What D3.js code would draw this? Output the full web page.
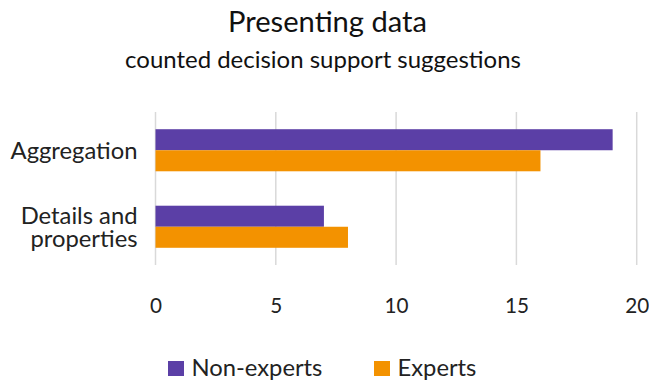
<!DOCTYPE html>
<html><head><meta charset="utf-8">
<script src="https://cdn.jsdelivr.net/npm/d3@7/dist/d3.min.js"></script>
<style>html,body{margin:0;padding:0;background:#fff;} svg{display:block;}</style>
</head><body>
<svg id="chart" width="649" height="383"></svg>
<script>
const categories = ["Aggregation", "Details and properties"];
const categoryLines = [["Aggregation"], ["Details and", "properties"]];
const series = ["Non-experts", "Experts"];
const nonExperts = [19, 7];
const experts = [16, 8];
const tickValues = [0, 5, 10, 15, 20];
const titleText = "Presenting data";
const subtitleText = "counted decision support suggestions";

const colors = {"Non-experts": "#5b3fa6", "Experts": "#f39200"};
const FONT = "Lato, 'Open Sans', sans-serif";
const svg = d3.select("#chart");

function fitSize(sel, w) {
  const fs = parseFloat(sel.attr("font-size"));
  const len = sel.node().getComputedTextLength();
  return fs * w / len;
}

const x = d3.scaleLinear().domain([0, 20]).range([155.5, 636.7]);
const y = d3.scaleBand().domain(categories).range([112, 265]).paddingInner(0.45).paddingOuter(0.225);
const yInner = d3.scaleBand().domain(series).range([0, y.bandwidth()]);

// gridlines
svg.append("g").selectAll("line").data(tickValues).join("line")
  .attr("x1", d => x(d)).attr("x2", d => x(d))
  .attr("y1", 112).attr("y2", 265)
  .attr("stroke", "#d9d9d9").attr("stroke-width", 1.5);

// bars
const rows = categories.map((c, i) => ({cat: c, vals: [
  {s: "Non-experts", v: nonExperts[i]}, {s: "Experts", v: experts[i]}]}));
const g = svg.append("g").selectAll("g").data(rows).join("g")
  .attr("transform", d => `translate(0,${y(d.cat)})`);
g.selectAll("rect").data(d => d.vals).join("rect")
  .attr("x", x(0)).attr("y", d => yInner(d.s))
  .attr("width", d => x(d.v) - x(0)).attr("height", yInner.bandwidth())
  .attr("fill", d => colors[d.s]);

// x axis tick labels
const xAxis = d3.axisBottom(x).tickValues(tickValues).tickSize(0).tickPadding(0);
const ax = svg.append("g").attr("transform", "translate(0,313)").call(xAxis);
ax.select(".domain").remove();
ax.selectAll("text").attr("dy", 0).attr("y", 0)
  .attr("font-family", FONT).attr("font-size", 20).attr("fill", "#222");
{
  const t10 = ax.selectAll("text").filter(d => d === 10);
  const fs = fitSize(t10, 24);
  ax.selectAll("text").attr("font-size", fs.toFixed(2));
}

// category labels
const lh = 22.5;
let catFs = null;
categories.forEach((c, i) => {
  const lines = categoryLines[i];
  const cy = y(c) + y.bandwidth() / 2 + 8.5 - (lines.length - 1) * lh / 2;
  const t = svg.append("text").attr("text-anchor", "end")
    .attr("font-family", FONT).attr("font-size", 21).attr("fill", "#222");
  lines.forEach((l, j) => {
    t.append("tspan").attr("x", 137.5).attr("y", cy + j * lh).text(l);
  });
  if (i === 0) catFs = fitSize(t, 127);
  t.attr("font-size", catFs.toFixed(2));
});

// title
const tt = svg.append("text").attr("x", 327.5).attr("y", 32).attr("text-anchor", "middle")
  .attr("font-family", FONT).attr("font-size", 24).attr("fill", "#111").text(titleText);
tt.attr("font-size", fitSize(tt, 199).toFixed(2));
const st = svg.append("text").attr("x", 323).attr("y", 68).attr("text-anchor", "middle")
  .attr("font-family", FONT).attr("font-size", 19).attr("fill", "#111").text(subtitleText);
st.attr("font-size", fitSize(st, 396).toFixed(2));

// legend
const legendX = [168, 374];
const lg = svg.append("g").selectAll("g").data(series).join("g")
  .attr("transform", (d, i) => `translate(${legendX[i]},361)`);
lg.append("rect").attr("width", 16).attr("height", 15).attr("fill", d => colors[d]);
const lt = lg.append("text").attr("x", 23.5).attr("y", 15).attr("font-family", FONT)
  .attr("font-size", 20.5).attr("fill", "#222").text(d => d);
{
  const fs = fitSize(lt.filter(d => d === "Non-experts"), 131);
  lt.attr("font-size", fs.toFixed(2));
}
</script>
</body></html>
